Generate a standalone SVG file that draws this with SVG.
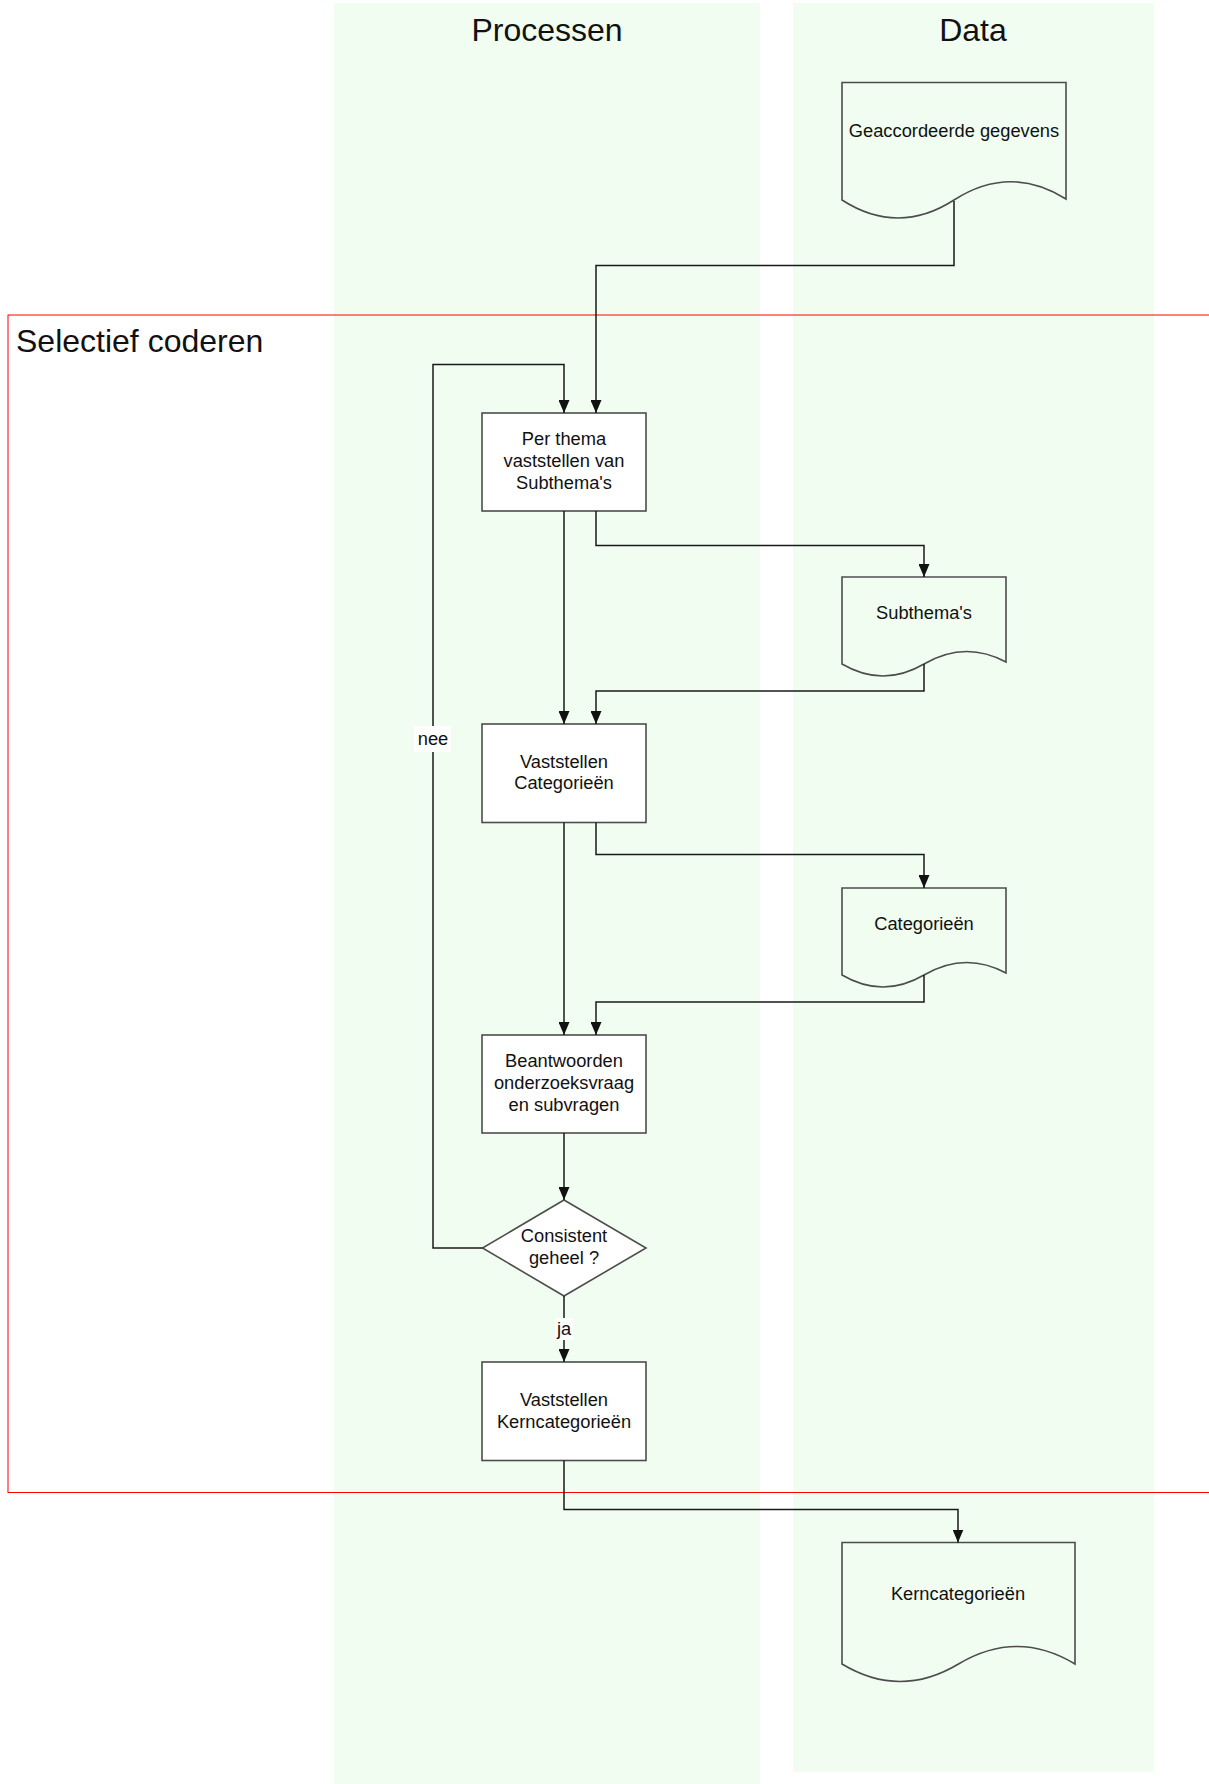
<svg xmlns="http://www.w3.org/2000/svg" width="1209" height="1784" viewBox="0 0 1209 1784">
<style>
text{font-family:"Liberation Sans",Arial,sans-serif;fill:#111}
.lane{fill:#f0fdf0}
.title{font-size:32px;text-anchor:middle}
.t{font-size:18.3px;text-anchor:middle}
.box{fill:#fff;stroke:#4d4d4d;stroke-width:1.6}
.doc{fill:none;stroke:#4d4d4d;stroke-width:1.6}
.conn path{fill:none;stroke:#1a1a1a;stroke-width:1.5}
.lblbg{fill:#fff}
</style>
<defs>
<marker id="arr" markerUnits="userSpaceOnUse" markerWidth="13" markerHeight="11" refX="13" refY="5.5" orient="auto">
<path d="M0,0 L13,5.5 L0,11 z" fill="#111"/>
</marker>
</defs>
<rect width="1209" height="1784" fill="#fff"/>
<g id="lane-processen">
<rect class="lane" x="334" y="3" width="426" height="1781"/>
<text class="title" x="547" y="41">Processen</text>
</g>
<g id="lane-data">
<rect class="lane" x="793" y="3" width="361" height="1769"/>
<text class="title" x="973" y="41">Data</text>
</g>
<g id="frame-selectief">
<rect x="8" y="315" width="1300" height="1177.5" fill="none" stroke="#ff0000" stroke-width="1"/>
<text x="16" y="352" style="font-size:32px">Selectief coderen</text>
</g>
<g id="doc-geaccordeerde">
<path class="doc" d="M842,200 V82.5 H1066 V199 Q1010,164 954,200 T842,200 Z"/>
<text class="t" x="954" y="137">Geaccordeerde gegevens</text>
</g>
<g id="box-subthemas">
<rect class="box" x="482" y="413" width="164" height="98"/>
<text class="t" x="564" y="444.5">Per thema</text>
<text class="t" x="564" y="466.8">vaststellen van</text>
<text class="t" x="564" y="489">Subthema's</text>
</g>
<g id="doc-subthemas">
<path class="doc" d="M842,664 V577 H1006 V662 Q965,640 924,664 T842,664 Z"/>
<text class="t" x="924" y="618.5">Subthema's</text>
</g>
<g id="box-categorieen">
<rect class="box" x="482" y="724" width="164" height="98.5"/>
<text class="t" x="564" y="767.5">Vaststellen</text>
<text class="t" x="564" y="789">Categorieën</text>
</g>
<g id="doc-categorieen">
<path class="doc" d="M842,975 V888 H1006 V973 Q965,951 924,975 T842,975 Z"/>
<text class="t" x="924" y="929.5">Categorieën</text>
</g>
<g id="box-beantwoorden">
<rect class="box" x="482" y="1035" width="164" height="98"/>
<text class="t" x="564" y="1066.7">Beantwoorden</text>
<text class="t" x="564" y="1089">onderzoeksvraag</text>
<text class="t" x="564" y="1111">en subvragen</text>
</g>
<g id="dec-consistent">
<path class="box" d="M564,1200 L646,1248 L564,1296 L482.5,1248 Z"/>
<text class="t" x="564" y="1242">Consistent</text>
<text class="t" x="564" y="1264">geheel ?</text>
</g>
<g id="box-kerncategorieen">
<rect class="box" x="482" y="1362" width="164" height="98.5"/>
<text class="t" x="564" y="1405.7">Vaststellen</text>
<text class="t" x="564" y="1427.5">Kerncategorieën</text>
</g>
<g id="doc-kerncategorieen">
<path class="doc" d="M842,1664 V1542.5 H1075 V1664 Q1017,1629 958.5,1664 T842,1664 Z"/>
<text class="t" x="958" y="1599.5">Kerncategorieën</text>
</g>
<g id="connectors" class="conn">
<path d="M954,201 V265.5 H596 V413" marker-end="url(#arr)"/>
<path d="M482.5,1248 H433 V364.5 H564 V413" marker-end="url(#arr)"/>
<path d="M564,511 V724" marker-end="url(#arr)"/>
<path d="M596,511 V545.5 H924 V577" marker-end="url(#arr)"/>
<path d="M924,664 V691 H596 V724" marker-end="url(#arr)"/>
<path d="M564,822.5 V1035" marker-end="url(#arr)"/>
<path d="M596,822.5 V854.5 H924 V888" marker-end="url(#arr)"/>
<path d="M924,975 V1002 H596 V1035" marker-end="url(#arr)"/>
<path d="M564,1133 V1200" marker-end="url(#arr)"/>
<path d="M564,1296 V1362" marker-end="url(#arr)"/>
<path d="M564,1460.5 V1509.5 H958 V1542.5" marker-end="url(#arr)"/>
</g>
<g id="label-nee">
<rect class="lblbg" x="414" y="726" width="37" height="26"/>
<text class="t" x="433" y="744.5">nee</text>
</g>
<g id="label-ja">
<rect class="lblbg" x="555" y="1318" width="18" height="22"/>
<text class="t" x="564" y="1335">ja</text>
</g>
</svg>
